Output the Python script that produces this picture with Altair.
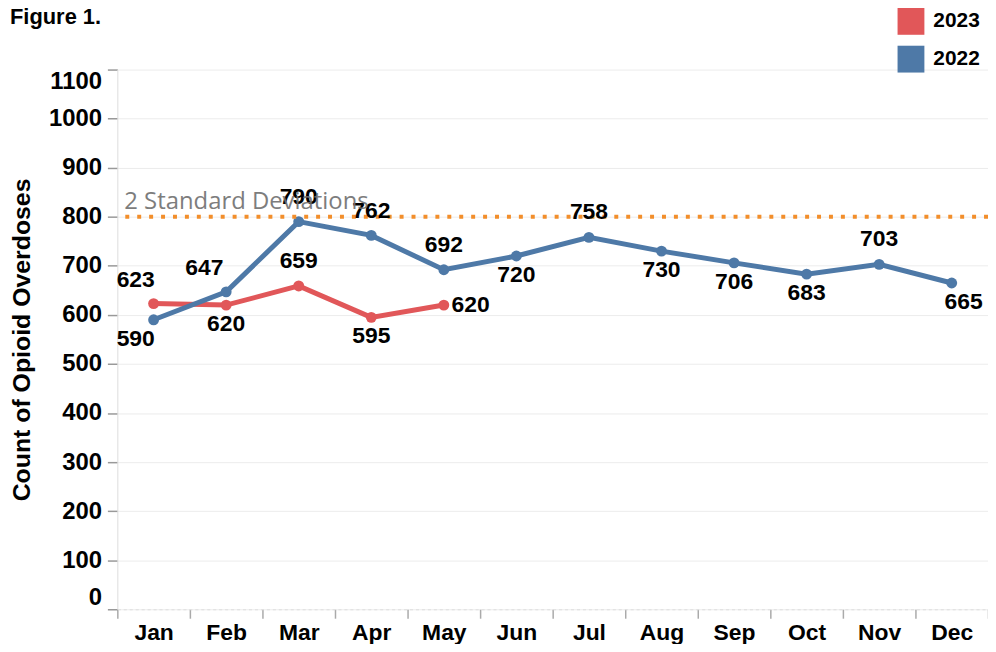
import altair as alt
import pandas as pd

# ---------------- data ----------------
MONTHS = ["Jan", "Feb", "Mar", "Apr", "May", "Jun", "Jul", "Aug", "Sep", "Oct", "Nov", "Dec"]
YEARS = ["2023", "2022"]
VALUES_2022 = [590, 647, 790, 762, 692, 720, 758, 730, 706, 683, 703, 665]
VALUES_2023 = [623, 620, 659, 595, 620]
THRESHOLD = 800
THRESHOLD_LABEL = "2 Standard Deviations"
Y_TICKS = list(range(0, 1101, 100))

# label placement (pixel offsets of each value label from its point) - styling only
LABEL_OFFSETS_2022 = [(-18, 19), (-22, -24), (0, -25), (0, -25), (0, -25), (0, 19),
                      (0, -25), (0, 19), (0, 19), (0, 19), (0, -25), (12, 19)]
LABEL_OFFSETS_2023 = [(-18, -24), (0, 19), (0, -25), (0, 19), (27, 0)]

COLORS = ["#E15759", "#4E79A7"]
FONT = "Liberation Sans"

rows = []
for m, v in zip(MONTHS, VALUES_2022):
    rows.append({"month": m, "year": "2022", "value": v})
for m, v in zip(MONTHS, VALUES_2023):
    rows.append({"month": m, "year": "2023", "value": v})
df = pd.DataFrame(rows)

offsets = {}
for m, o in zip(MONTHS, LABEL_OFFSETS_2022):
    offsets[("2022", m)] = o
for m, o in zip(MONTHS, LABEL_OFFSETS_2023):
    offsets[("2023", m)] = o

x_scale = alt.Scale(type="band", domain=MONTHS, paddingInner=0, paddingOuter=0)
y_scale = alt.Scale(domain=[0, 1100], nice=False, zero=True)
color_scale = alt.Scale(domain=YEARS, range=COLORS)

x_enc = alt.X("month:N", scale=x_scale, sort=MONTHS,
              axis=alt.Axis(title=None, labelAngle=0, tickBand="extent", tickSize=9,
                            tickColor="#aaaaaa", tickWidth=1.5, domainDash=[3, 3],
                            domainColor="#dddddd", labelFont=FONT, labelFontSize=23,
                            labelFontWeight="bold", labelColor="black", labelPadding=3,
                            grid=False))
y_enc = alt.Y("value:Q", scale=y_scale,
              axis=alt.Axis(values=Y_TICKS, format="d", title="Count of Opioid Overdoses",
                            titleFont=FONT, titleFontSize=25, titleFontWeight="bold",
                            titleColor="black", titleX=-96, titleBaseline="middle",
                            labelFont=FONT, labelFontSize=24, labelFontWeight="bold",
                            labelColor="black", labelFlush=True, labelPadding=6,
                            tickSize=10, tickColor="#999999", tickWidth=1.5,
                            domainColor="#dddddd", grid=True, gridColor="#ececec"))

legend = alt.Legend(title=None, orient="none", legendX=785, legendY=-62,
                    symbolType="square", symbolSize=729, symbolStrokeWidth=0,
                    symbolOpacity=1, labelFont=FONT, labelFontSize=21,
                    labelFontWeight="bold", labelColor="black", labelOffset=9,
                    rowPadding=11, padding=0)

base = alt.Chart(df)
layers = []
for yr in ["2023", "2022"]:
    sub = base.transform_filter(alt.datum.year == yr)
    layers.append(sub.mark_line(strokeWidth=5).encode(
        x=x_enc, y=y_enc, color=alt.Color("year:N", scale=color_scale, legend=legend)))
    layers.append(sub.mark_circle(size=120, opacity=1).encode(
        x=x_enc, y=y_enc, color=alt.Color("year:N", scale=color_scale, legend=legend)))

# threshold rule + annotation
thr = alt.Chart(pd.DataFrame({"value": [THRESHOLD]}))
layers.append(thr.mark_rule(color="#F28E2B", strokeWidth=4, strokeDash=[4, 8]).encode(
    y=alt.Y("value:Q", scale=y_scale)))

# value labels
groups = {}
for (yr, m), o in offsets.items():
    groups.setdefault(o, []).append((yr, m))
for (dx, dy), members in groups.items():
    mask = df.apply(lambda r: (r["year"], r["month"]) in members, axis=1)
    layers.append(alt.Chart(df[mask]).mark_text(
        dx=dx, dy=dy, font=FONT, fontSize=23, fontWeight="bold", color="black",
        align="center", baseline="middle").encode(
        x=alt.X("month:N", scale=x_scale, sort=MONTHS),
        y=alt.Y("value:Q", scale=y_scale),
        text="value:Q"))

layers.append(thr.mark_text(text=THRESHOLD_LABEL, align="left", baseline="alphabetic",
                            dx=7, dy=-8, font="Open Sans", fontSize=24,
                            color="#707070", opacity=0.9).encode(
    x=alt.XDatum("Jan", bandPosition=0, scale=x_scale),
    y=alt.Y("value:Q", scale=y_scale)))

chart = alt.layer(*layers).properties(
    width=876, height=543,
    autosize=alt.AutoSizeParams(type="none"),
    padding={"left": 110, "top": 60, "right": 0, "bottom": 33},
    title=alt.TitleParams("Figure 1.", anchor="start", frame="group", orient="top",
                          font=FONT, fontSize=22, fontWeight="bold", color="black",
                          baseline="alphabetic", dx=-108, dy=38, offset=0),
).configure_view(stroke=None).resolve_scale(color="shared")

chart.save("out.html", embed_options={"renderer": "svg", "actions": False})
